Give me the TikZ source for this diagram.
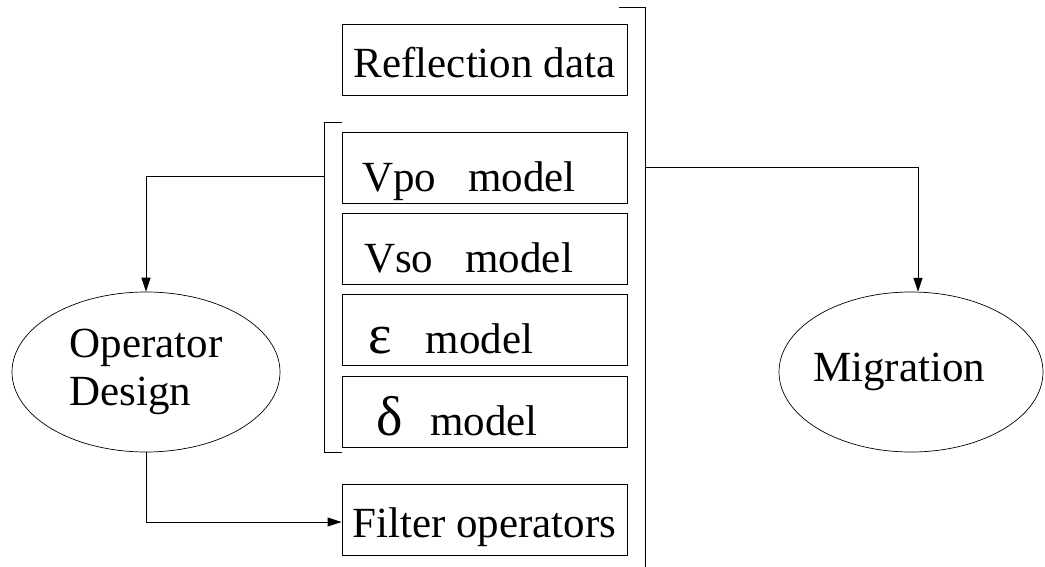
\documentclass[tikz,border=0pt]{standalone}
\usepackage{fontspec}
\setmainfont{Liberation Serif}
\newfontfamily\diagfont{Liberation Serif}
\usetikzlibrary{arrows.meta, shapes.geometric, positioning}

\newcommand{\bigsym}[1]{{\fontsize{56}{56}\selectfont #1}}

\begin{document}
\begin{tikzpicture}[x=1pt, y=-1pt, line width=0.9pt,
  every node/.style={font=\diagfont\fontsize{43}{48}\selectfont},
  databox/.style={draw, minimum width=285pt, minimum height=71pt, inner sep=0pt,
    text height=36pt, text depth=0pt},
  modelbox/.style={draw, minimum width=285pt, minimum height=71pt, inner xsep=20pt,
    inner ysep=0pt, text width=245pt, align=left, text height=47pt, text depth=0pt},
  procnode/.style={draw, ellipse, inner sep=0pt, line width=0.7pt},
  arr/.style={-{Triangle[length=14pt, width=9pt]}}]
\useasboundingbox (0,0) rectangle (1045,567);

% data and model boxes
\node[databox] (refl) at (484.5,60) {Reflection data};
\node[modelbox, below=36pt of refl] (vpo) {Vpo\hspace{0.75em}model};
\node[modelbox, below=9pt of vpo] (vso) {\hspace{2pt}Vso\hspace{0.75em}model};
\node[modelbox, below=9pt of vso] (eps) {\hspace{6pt}\bigsym{ε}\hspace{0.8em}model};
\node[modelbox, below=10pt of eps] (del) {\hspace{14pt}\bigsym{δ}\hspace{0.65em}model};
\node[databox, below=36pt of del] (filt) {Filter operators};

% processes
\node[procnode, minimum width=268pt, minimum height=160pt, align=left] (opd) at (146,372)
  {Operator\\Design};
\node[procnode, minimum width=264pt, minimum height=160pt] (mig) at (911,372)
  {\kern-24pt Migration};

% brackets
\coordinate (lbt) at (342,122);
\coordinate (lbb) at (342,452);
\coordinate (lbm) at (324,176);
\coordinate (rbt) at (619,7);
\coordinate (rbb) at (645,567);
\coordinate (rbm) at (645,167);
\draw (lbt) -- (lbm |- lbt) -- (lbm |- lbb) -- (lbb);
\draw (rbt) -- (rbb |- rbt) -- (rbb);

% connections
\draw[arr] (lbm) -| (opd.north);
\draw[arr] (rbm) -| (mig.85);
\coordinate (opb) at (146,522);
\draw[arr] (opd.south) -- (opb) -- (opb -| filt.west);
\end{tikzpicture}
\end{document}
